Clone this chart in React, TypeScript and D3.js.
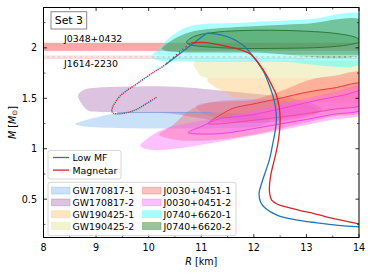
import React from "react";
import * as d3 from "d3";

type P = [number, number];

const W = 374;
const H = 275;

// axes
const xDomain: P = [8, 14];
const yDomain: P = [0.12, 2.4];
const xMajor = [8, 9, 10, 11, 12, 13, 14];
const xMinor = [8.5, 9.5, 10.5, 11.5, 12.5, 13.5];
const yMajor = [0.5, 1, 1.5, 2];
const yMinor = [0.25, 0.75, 1.25, 1.75, 2.25];

// pulsar mass bands
const j0348Band: P = [1.97, 2.05];
const j1614Band: P = [1.892, 1.926];
const j1614Mid = 1.909;

// credible regions (R, M)
const gw170817_1: P[] = [[8.6,1.245],[8.75,1.275],[9.0,1.31],[9.3,1.345],[9.6,1.358],[10.2,1.36],[11.0,1.36],[11.6,1.355],[12.1,1.33],[12.3,1.28],[12.1,1.225],[11.5,1.205],[10.5,1.2],[9.6,1.202],[9.0,1.212],[8.7,1.228]];
const gw170817_1Edge: P[] = [[9.4,1.358],[10.2,1.36],[11.2,1.36]];
const gw170817_2: P[] = [[8.66,1.535],[8.8,1.59],[9.0,1.605],[9.5,1.615],[10.2,1.62],[10.8,1.605],[11.3,1.58],[11.8,1.555],[12.3,1.53],[12.8,1.49],[13.15,1.44],[13.3,1.39],[13.1,1.33],[12.6,1.28],[12.0,1.255],[11.4,1.27],[10.9,1.31],[10.4,1.35],[9.8,1.36],[9.1,1.365],[8.85,1.38],[8.72,1.45]];
const gw170817_2In: P[] = [[10.9,1.42],[11.3,1.47],[12.0,1.49],[12.6,1.47],[13.1,1.42],[13.2,1.37],[12.8,1.31],[12.1,1.28],[11.4,1.3],[11.0,1.36]];
const gw190425_1: P[] = [[11.12,1.70],[14.1,1.70],[14.1,1.45],[12.5,1.47],[12.0,1.49],[11.6,1.51],[11.45,1.56],[11.3,1.6],[11.2,1.63],[11.12,1.67]];
const gw190425_2: P[] = [[10.86,1.875],[14.1,1.875],[14.1,1.70],[11.1,1.70],[10.98,1.72],[10.92,1.77],[10.86,1.82]];
const j0030_1: P[] = [[10.2,1.14],[10.45,1.23],[10.75,1.37],[11.1,1.45],[11.6,1.47],[11.95,1.48],[12.5,1.57],[13.07,1.685],[13.5,1.72],[14.1,1.75],[14.1,1.38],[13.5,1.32],[13.0,1.26],[12.5,1.2],[12.0,1.14],[11.5,1.10],[11.0,1.08],[10.5,1.09]];
const j0030_1In: P[] = [[11.13,1.25],[11.35,1.33],[11.6,1.40],[12.0,1.445],[12.5,1.50],[13.0,1.56],[13.5,1.60],[14.1,1.64],[14.1,1.45],[13.5,1.39],[12.9,1.34],[12.3,1.30],[11.7,1.265],[11.3,1.245]];
const j0030_2: P[] = [[9.84,1.03],[10.03,0.99],[10.5,1.0],[11.0,1.04],[11.55,1.09],[12.0,1.13],[12.5,1.18],[13.0,1.235],[13.5,1.29],[14.1,1.355],[14.1,1.62],[13.5,1.56],[13.0,1.50],[12.5,1.44],[12.0,1.38],[11.5,1.32],[10.91,1.27],[10.27,1.19],[9.95,1.09]];
const j0030_2In: P[] = [[10.75,1.16],[11.0,1.22],[11.36,1.30],[11.74,1.32],[12.2,1.36],[12.7,1.42],[13.2,1.48],[13.7,1.53],[14.1,1.57],[14.1,1.40],[13.5,1.34],[13.0,1.29],[12.5,1.245],[12.0,1.20],[11.55,1.16],[11.1,1.145]];
const j0740_1: P[] = [[10.06,1.91],[10.2,2.0],[10.44,2.12],[10.7,2.2],[11.0,2.235],[11.5,2.245],[12.0,2.255],[13.0,2.28],[14.1,2.32],[14.1,1.862],[12.5,1.862],[11.0,1.862],[10.4,1.866],[10.15,1.88]];
const j0740_2: P[] = [[10.25,1.99],[10.4,2.06],[10.6,2.12],[10.85,2.165],[11.2,2.19],[12.0,2.215],[13.0,2.24],[14.1,2.265],[14.1,1.955],[12.0,1.955],[11.0,1.955],[10.5,1.96],[10.32,1.972]];
const j0740_2In: P[] = [[10.72,2.055],[10.85,2.11],[11.2,2.15],[11.7,2.17],[12.3,2.175],[13.0,2.165],[13.6,2.14],[13.95,2.10],[14.02,2.065],[13.8,2.03],[13.3,2.005],[12.5,1.995],[11.7,1.995],[11.1,2.01],[10.8,2.03]];

// mass-radius curves
const sharedDotted: P[] = [[10.15,1.51],[9.95,1.445],[9.77,1.39],[9.6,1.36],[9.42,1.345],[9.33,1.352],[9.3,1.37],[9.32,1.42],[9.38,1.47],[9.45,1.52],[9.58,1.575],[9.71,1.62],[9.9,1.69],[10.1,1.76],[10.31,1.83]];
const magnetarDotted: P[] = [[10.31,1.83],[10.5,1.92],[10.65,1.985],[10.8,2.05]];
const lowMFRise: P[] = [[10.31,1.83],[11.1,2.145]];
const lowMF: P[] = [[11.1,2.145],[11.3,2.135],[11.5,2.11],[11.7,2.06],[11.85,2.0],[11.96,1.93],[12.08,1.85],[12.18,1.77],[12.28,1.65],[12.36,1.53],[12.41,1.42],[12.43,1.30],[12.41,1.19],[12.36,1.05],[12.3,0.9],[12.22,0.77],[12.15,0.66],[12.1,0.56],[12.13,0.47],[12.22,0.41],[12.45,0.34],[12.8,0.295],[13.2,0.265],[13.6,0.24],[14.0,0.225]];
const magnetar: P[] = [[10.8,2.05],[11.0,2.055],[11.2,2.045],[11.4,2.025],[11.61,2.0],[11.8,1.97],[11.96,1.93],[12.1,1.84],[12.24,1.73],[12.35,1.62],[12.43,1.53],[12.48,1.42],[12.5,1.30],[12.49,1.18],[12.45,1.03],[12.39,0.89],[12.33,0.76],[12.3,0.65],[12.3,0.56],[12.34,0.49],[12.45,0.45],[12.63,0.42],[12.9,0.385],[13.13,0.36],[13.5,0.31],[14.0,0.255]];

const regionNames = ["GW170817-1","GW170817-2","GW190425-1","GW190425-2","J0030+0451-1","J0030+0451-2","J0740+6620-1","J0740+6620-2"];
const regionColors = ["#7fb8f0","#a460ac","#ffb84d","#d6d66a","#ff5a5a","#ff5aff","#33ffff","#3a8a3a"];
const regionOpacity = [0.42, 0.38, 0.35, 0.32, 0.38, 0.38, 0.42, 0.5];
const regionOuter = [gw170817_1, gw170817_2, gw190425_1, gw190425_2, j0030_1, j0030_2, j0740_1, j0740_2];
const regionInner: (P[] | null)[] = [null, gw170817_2In, null, null, j0030_1In, j0030_2In, null, j0740_2In];
const innerStroke = [null, null, null, null, "#e8383f", "#f040e0", null, "#2a7a3a"];
const smoothRegion = [true, true, false, false, true, true, true, true];

const curveNames = ["Low MF", "Magnetar"];
const curveColors = ["#1f77b4", "#d62728"];

const FONT = "DejaVu Sans, sans-serif";

export default function App() {
  const L = 43.5, R = 359, T = 7.5, B = 237.5;
  const x = d3.scaleLinear().domain(xDomain).range([L, R]);
  const y = d3.scaleLinear().domain(yDomain).range([B, T]);

  const closedSmooth = d3.line<P>().x(d => x(d[0])).y(d => y(d[1])).curve(d3.curveCatmullRomClosed.alpha(0.5));
  const closedLin = d3.line<P>().x(d => x(d[0])).y(d => y(d[1])).curve(d3.curveLinearClosed);
  const open = d3.line<P>().x(d => x(d[0])).y(d => y(d[1])).curve(d3.curveCatmullRom.alpha(0.5));
  const lin = d3.line<P>().x(d => x(d[0])).y(d => y(d[1]));

  const fs = 9.4;

  return (
    <svg width={W} height={H} style={{ position: "absolute", left: 0, top: 0, background: "#fff" }} fontFamily={FONT}>
      <defs>
        <clipPath id="plot"><rect x={L} y={T} width={R - L} height={B - T} /></clipPath>
      </defs>
      <g clipPath="url(#plot)">
        {/* pulsar bands */}
        <rect x={L} width={R - L} y={y(j0348Band[1])} height={y(j0348Band[0]) - y(j0348Band[1])} fill="#ff5050" opacity={0.5} />
        <rect x={L} width={R - L} y={y(j1614Band[1])} height={y(j1614Band[0]) - y(j1614Band[1])} fill="#ff5050" opacity={0.3} />
        {regionOuter.map((pts, i) => (
          <g key={regionNames[i]}>
            <path d={(smoothRegion[i] ? closedSmooth : closedLin)(pts) || ""} fill={regionColors[i]} fillOpacity={regionOpacity[i]} stroke="none" />
            {regionInner[i] && (
              <path d={closedSmooth(regionInner[i] as P[]) || ""} fill={regionColors[i]} fillOpacity={regionOpacity[i] * 0.6}
                stroke={innerStroke[i] || "none"} strokeWidth={1} />
            )}
          </g>
        ))}
        <path d={lin(gw170817_1Edge) || ""} fill="none" stroke="#6f95e0" strokeWidth={0.9} opacity={0.8} />
        {/* J1614 dashed */}
        <line x1={L} x2={R} y1={y(j1614Band[1])} y2={y(j1614Band[1])} stroke="#fff" strokeWidth={0.8} opacity={0.8} />
        <line x1={L} x2={R} y1={y(j1614Mid)} y2={y(j1614Mid)} stroke="#fff" strokeWidth={1.1} strokeDasharray="3.5,2" opacity={0.9} />
        {/* curves */}
        <path d={open(sharedDotted) || ""} fill="none" stroke={curveColors[0]} strokeWidth={1.4} strokeDasharray="1.3,2.9" />
        <path d={open(sharedDotted) || ""} fill="none" stroke={curveColors[1]} strokeWidth={1.4} strokeDasharray="1.3,2.9" strokeDashoffset={2.1} />
        <path d={open(magnetarDotted) || ""} fill="none" stroke={curveColors[1]} strokeWidth={1.4} strokeDasharray="1.3,2.9" strokeDashoffset={2.1} />
        <path d={lin(lowMFRise) || ""} fill="none" stroke={curveColors[0]} strokeWidth={1.3} />
        <path d={open(lowMF) || ""} fill="none" stroke={curveColors[0]} strokeWidth={1.3} />
        <path d={open(magnetar) || ""} fill="none" stroke={curveColors[1]} strokeWidth={1.3} />
      </g>

      {/* band labels */}
      <text x={64} y={38.5} fontSize={fs} dominantBaseline="central" fill="#000">J0348+0432</text>
      <text x={64} y={63.5} fontSize={fs} dominantBaseline="central" fill="#000">J1614-2230</text>

      {/* frame */}
      <rect x={L} y={T} width={R - L} height={B - T} fill="none" stroke="#000" strokeWidth={1} />
      {/* ticks */}
      {xMajor.map(v => (
        <g key={"xM" + v}>
          <line x1={x(v)} x2={x(v)} y1={B} y2={B - 3.5} stroke="#000" strokeWidth={0.8} />
          <line x1={x(v)} x2={x(v)} y1={T} y2={T + 3.5} stroke="#000" strokeWidth={0.8} />
          <text x={x(v)} y={247} fontSize={9.6} textAnchor="middle" dominantBaseline="central">{v}</text>
        </g>
      ))}
      {xMinor.map(v => (
        <g key={"xm" + v}>
          <line x1={x(v)} x2={x(v)} y1={B} y2={B - 2} stroke="#000" strokeWidth={0.6} />
          <line x1={x(v)} x2={x(v)} y1={T} y2={T + 2} stroke="#000" strokeWidth={0.6} />
        </g>
      ))}
      {yMajor.map(v => (
        <g key={"yM" + v}>
          <line x1={L} x2={L + 3.5} y1={y(v)} y2={y(v)} stroke="#000" strokeWidth={0.8} />
          <line x1={R} x2={R - 3.5} y1={y(v)} y2={y(v)} stroke="#000" strokeWidth={0.8} />
          <text x={37} y={y(v)} fontSize={9.6} textAnchor="end" dominantBaseline="central">{v}</text>
        </g>
      ))}
      {yMinor.map(v => (
        <g key={"ym" + v}>
          <line x1={L} x2={L + 2} y1={y(v)} y2={y(v)} stroke="#000" strokeWidth={0.6} />
          <line x1={R} x2={R - 2} y1={y(v)} y2={y(v)} stroke="#000" strokeWidth={0.6} />
        </g>
      ))}
      {/* axis titles */}
      <text x={(L + R) / 2} y={261} fontSize={9.6} textAnchor="middle" dominantBaseline="central">
        <tspan fontStyle="italic">R</tspan> [km]
      </text>
      <text transform={`translate(12,${(T + B) / 2}) rotate(-90)`} fontSize={9.6} textAnchor="middle" dominantBaseline="central">
        <tspan fontStyle="italic">M</tspan> [<tspan fontStyle="italic">M</tspan><tspan fontSize={7} dy={2.5}>⊙</tspan><tspan dy={-2.5}>]</tspan>
      </text>

      {/* Set 3 */}
      <rect x={51} y={11.7} width={35.7} height={17.3} fill="#fff" stroke="#888" strokeWidth={1} />
      <text x={68.9} y={20.5} fontSize={10.9} textAnchor="middle" dominantBaseline="central">Set 3</text>

      {/* legend 1: curves */}
      <rect x={48} y={150.5} width={73} height={28.5} rx={2} fill="#fff" fillOpacity={0.8} stroke="#ccc" strokeWidth={0.8} />
      {curveNames.map((n, i) => (
        <g key={n}>
          <line x1={53} x2={69} y1={157.5 + i * 12.6} y2={157.5 + i * 12.6} stroke={curveColors[i]} strokeWidth={1.3} />
          <text x={72.5} y={157.5 + i * 12.6} fontSize={fs} dominantBaseline="central">{n}</text>
        </g>
      ))}

      {/* legend 2: regions */}
      <rect x={48} y={182.3} width={188} height={53.4} rx={2} fill="#fff" fillOpacity={0.8} stroke="#ccc" strokeWidth={0.8} />
      {regionNames.map((n, i) => {
        const col = Math.floor(i / 4);
        const row = i % 4;
        const sx = col === 0 ? 51.5 : 142.5;
        const ty = 190.6 + row * 11.8;
        return (
          <g key={n}>
            <rect x={sx} y={ty - 3.4} width={18.5} height={6.8} fill={regionColors[i]} fillOpacity={regionOpacity[i]}
              stroke={regionColors[i]} strokeOpacity={regionOpacity[i]} strokeWidth={0.8} />
            <text x={sx + 21} y={ty} fontSize={fs} dominantBaseline="central">{n}</text>
          </g>
        );
      })}
    </svg>
  );
}
